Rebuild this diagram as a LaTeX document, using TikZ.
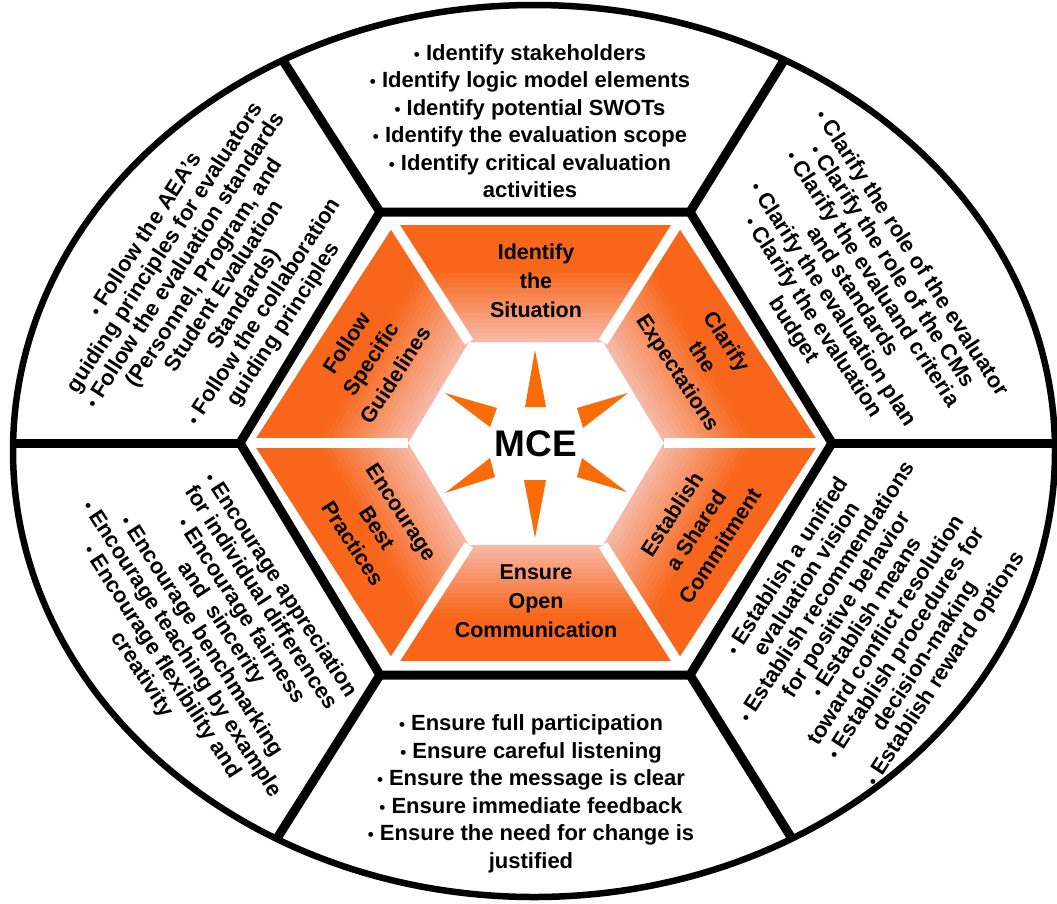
\documentclass[tikz,border=0pt]{standalone}
\usepackage{fontspec}
\setmainfont{Liberation Sans}
\usetikzlibrary{calc}
\definecolor{mceorange}{RGB}{247,102,26}
\definecolor{mcepale}{RGB}{247,186,168}
\definecolor{spikeorange}{RGB}{250,108,8}
\newcommand{\blt}{{\fontsize{17}{17}\selectfont •}\ }
\tikzset{
  hexline/.style={line width=9pt, line join=miter},
  rim/.style={line width=6.5pt},
  gapline/.style={white, line width=10pt},
  spike/.style={fill=spikeorange, draw=none},
  listtext/.style={font=\bfseries\fontsize{22}{23.5}\selectfont, align=center, inner sep=0pt},
  flattext/.style={font=\bfseries\fontsize{22}{27.5}\selectfont, align=center, inner sep=0pt, anchor=north},
  petaltext/.style={font=\bfseries\fontsize{21.5}{29}\selectfont, align=center, inner sep=0pt},
}
\begin{document}
\begin{tikzpicture}[x=1pt, y=-1pt]
\useasboundingbox (0,0) rectangle (1057,903);
\fill[white] (0,0) rectangle (1057,903);
\coordinate (C) at (536,443);
% black hexagon vertices
\coordinate (HL) at (240,443);
\coordinate (HTL) at (380,212);
\coordinate (HTR) at (690,212);
\coordinate (HR) at (832,443);
\coordinate (HBR) at (690,675);
\coordinate (HBL) at (380,675);
% spoke ends on the rim
\coordinate (EL) at (13,443);
\coordinate (ETL) at (282.8,60.4);
\coordinate (ETR) at (784.3,59.8);
\coordinate (ER) at (1055,443);
\coordinate (EBR) at (791.8,838.4);
\coordinate (EBL) at (276.6,839);
% orange outer hexagon
\coordinate (OL) at (253,443);
\coordinate (OTL) at (394,225);
\coordinate (OTR) at (677,225);
\coordinate (OR) at (819,443);
\coordinate (OBR) at (677,661);
\coordinate (OBL) at (394,661);
% inner white hexagon
\coordinate (IL) at (408,443);
\coordinate (ITL) at (469,342);
\coordinate (ITR) at (603,342);
\coordinate (IR) at (664,443);
\coordinate (IBR) at (603,545);
\coordinate (IBL) at (469,545);

% orange pieces: banded gradient, pale at the inner edge, orange outside
\foreach \ang/\pa/\pb/\pc/\pd/\rin/\rout in {
    0/ITL/OTL/OTR/ITR/101/218,
    -60/ITR/OTR/OR/IR/110/238,
    -120/IR/OR/OBR/IBR/110/238,
    180/IBR/OBR/OBL/IBL/101/218,
    120/IBL/OBL/OL/IL/110/238,
    60/IL/OL/OTL/ITL/110/238} {
  \begin{scope}
    \clip (\pa) -- (\pb) -- (\pc) -- (\pd) -- cycle;
    \foreach \i in {0,...,31} {
      \pgfmathsetmacro\rr{95+\i*5}
      \pgfmathsetmacro\pct{min(100,max(0,100*(\rr+2.5-\rin)/(0.62*(\rout-\rin))))}
      \fill[color=mceorange!\pct!mcepale, rotate around={\ang:(C)}]
        ($(C)+(-300,-\rr)$) rectangle ($(C)+(300,-\rr-5.6)$);
    }
  \end{scope}
}
\foreach \a/\b in {IL/OL, ITL/OTL, ITR/OTR, IR/OR, IBR/OBR, IBL/OBL}
  \draw[gapline] (\a) -- (\b);

% star spikes
\fill[spike] (535,350) -- (546,407) -- (525,407) -- cycle;
\fill[spike] (535,538) -- (546,480) -- (524,480) -- cycle;
\fill[spike] (445,393) -- (497,408) -- (490,427) -- cycle;
\fill[spike] (628,393) -- (577,408) -- (583,428) -- cycle;
\fill[spike] (445,493) -- (490,458) -- (495,477) -- cycle;
\fill[spike] (627,492) -- (582,458) -- (577,477) -- cycle;

% rim, hexagon and spokes
\draw[rim] (534,451) ellipse [x radius=521pt, y radius=446pt];
\draw[hexline] (HL) -- (HTL) -- (HTR) -- (HR) -- (HBR) -- (HBL) -- cycle;
\draw[hexline] (HL) -- (EL);
\draw[hexline] (HTL) -- (ETL);
\draw[hexline] (HTR) -- (ETR);
\draw[hexline] (HR) -- (ER);
\draw[hexline] (HBR) -- (EBR);
\draw[hexline] (HBL) -- (EBL);

% centre
\node[font=\bfseries\fontsize{37}{37}\selectfont, inner sep=0pt] (mce) at (536,443.5) {MCE};

% petal labels
\node[petaltext] (lblTop) at (536,281) {Identify\\the\\Situation};
\node[petaltext, rotate=-57] (lblTR) at (701,358) {Clarify\\the\\Expectations};
\node[petaltext, rotate=57] (lblBR) at (696,530) {Establish\\a Shared\\Commitment};
\node[petaltext] (lblBot) at (536,601) {Ensure\\Open\\Communication};
\node[petaltext, rotate=-57] (lblBL) at (377,528) {Encourage\\Best\\Practices};
\node[petaltext, rotate=57] (lblTL) at (371,359) {Follow\\Specific\\Guidelines};

% outer lists
\node[flattext] (listTop) at (530,44) {\blt Identify stakeholders\\\blt Identify logic model elements\\\blt Identify potential SWOTs\\\blt Identify the evaluation scope\\\blt Identify critical evaluation\\activities};
\node[flattext] (listBot) at (531,714.5) {\blt Ensure full participation\\\blt Ensure careful listening\\\blt Ensure the message is clear\\\blt Ensure immediate feedback\\\blt Ensure the need for change is\\justified};
\node[listtext, rotate=-57] (listTR) at (852,292) {\blt Clarify the role of the evaluator\\\blt Clarify the role of the CMs\\\blt Clarify the evaluand criteria\\and standards\\\blt Clarify the evaluation plan\\\blt Clarify the evaluation\\budget};
\node[listtext, rotate=57] (listTL) at (215,280) {\blt Follow the AEA's\\guiding principles for evaluators\\\blt Follow the evaluation standards\\(Personnel, Program, and\\Student Evaluation\\Standards)\\\blt Follow the collaboration\\guiding principles};
\node[listtext, rotate=-57] (listBL) at (211,630) {\blt Encourage appreciation\\for individual differences\\\blt Encourage fairness\\and\ \ sincerity\\\blt Encourage benchmarking\\\blt Encourage teaching by example\\\blt Encourage flexibility and\\creativity};
\node[listtext, rotate=57] (listBR) at (867,618) {\blt Establish a unified\\evaluation vision\\\blt Establish recommendations\\for positive behavior\\\blt Establish means\\toward conflict resolution\\\blt Establish procedures for\\decision-making\\\blt Establish reward options};
\end{tikzpicture}
\end{document}
